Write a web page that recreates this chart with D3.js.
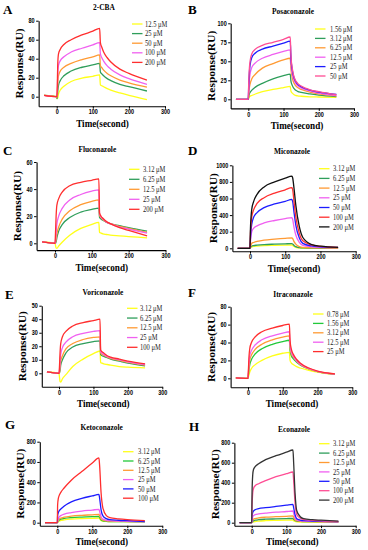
<!DOCTYPE html>
<html>
<head>
<meta charset="utf-8">
<script src="https://cdn.jsdelivr.net/npm/d3@7"></script>
<style>
  html, body { margin: 0; padding: 0; background: #fff; }
  svg { display: block; }
</style>
</head>
<body>
<div id="chart"></div>
<script>
// sample times (s) shared by every sensorgram
const times = [-35, 0, 1, 3, 5, 10, 20, 40, 70, 100, 119, 121, 125, 130, 140, 150, 175, 200, 250];
const timeTicks = [0, 100, 200, 300];

// A: 2-CBA
const cbaLabels = ['12.5 μM', '25 μM', '50 μM', '100 μM', '200 μM'];
const cbaTicks = [0, 20, 40, 60, 80];
const cbaValues = [
  [1.5, 0, -2, -1, 3, 7, 11, 16, 19.5, 21.5, 23, 12.5, 11.5, 10.5, 8.5, 7, 4, 1.5, -3],
  [1.5, 0, -2, 6, 12, 17, 22, 27, 31, 33.5, 35, 26, 24, 22, 19, 17, 13, 10.5, 6],
  [1.5, 0, -1, 14, 22, 27, 31, 35, 39, 42, 44, 33, 30.5, 28, 24.5, 22, 17.5, 14.5, 10],
  [1.5, 0, 0, 24, 33, 38, 42, 47, 51, 54.5, 57, 45, 41, 37.5, 32.5, 29, 23, 19, 13],
  [1.5, 0, 3, 35, 45, 50, 55, 60, 65, 69, 72, 57, 52, 47, 41, 36.5, 29, 24.5, 17.5],
];

// B: Posaconazole
const posaLabels = ['1.56 μM', '3.12 μM', '6.25 μM', '12.5 μM', '25 μM', '50 μM'];
const posaTicks = [0, 25, 50, 75, 100];
const posaValues = [
  [0, 0, 1, 3, 4, 5, 7, 10, 13, 15.5, 17, 11, 8, 6, 4.5, 4, 3.3, 3, 2.5],
  [0, 0, 3, 7, 9, 12, 16, 21, 27, 31, 33, 24, 18, 14, 10.5, 9, 7, 5.5, 3.5],
  [0, 0, 6, 15, 20, 27, 33, 41, 47, 52, 54, 40, 28, 21, 15.5, 13, 9.5, 7, 4.5],
  [0, 0, 10, 25, 33, 42, 48, 54, 59, 63, 65, 48, 33, 25, 18, 15, 11, 8, 5],
  [0, 0, 15, 35, 45, 55, 61, 66, 70, 74, 76.5, 55, 38, 28, 20, 16.5, 12, 9.5, 6.5],
  [0, 0, 18, 40, 50, 60, 66, 71, 75, 79, 82, 58, 40, 29, 21, 17.5, 12.5, 10, 6],
];

// C: Fluconazole
const flucoLabels = ['3.12 μM', '6.25 μM', '12.5 μM', '25 μM', '200 μM'];
const flucoTicks = [0, 20, 40, 60];
const flucoValues = [
  [1, 0, -1, -3.5, -3.7, -2, 1, 6, 11, 14, 15.5, 8, 7.5, 7, 6.5, 6, 5.5, 5, 4],
  [1, 0, 0, 1, 4, 9, 14, 19, 23, 25, 26, 19, 18, 17, 15.5, 14.5, 13, 11.5, 9],
  [1, 0, 0, 3, 7, 12, 18, 24, 28.5, 31, 32, 20.5, 19, 17.5, 15.5, 14.5, 12.5, 11, 8],
  [1, 0, 1, 8, 14, 20, 26, 32, 36, 38.5, 39.5, 21.5, 19.5, 18, 15.5, 14.5, 12, 10.5, 7.5],
  [1, 0, 5, 20, 28, 33, 38, 42.5, 45, 46.5, 47.5, 22.5, 20, 18.5, 16, 14.5, 11.5, 9.5, 5.5],
];

// D: Miconazole
const micoLabels = ['3.12 μM', '6.25 μM', '12.5 μM', '25 μM', '50 μM', '100 μM', '200 μM'];
const micoTicks = [0, 200, 400, 600, 800, 1000];
const micoValues = [
  [0, 0, 5, 12, 18, 22, 26, 32, 36, 39, 40, 35, 22, 12, 4, 3, 2, 1, 0],
  [0, 0, 8, 20, 28, 33, 38, 45, 50, 54, 56, 52, 35, 20, 8, 4, 2.5, 2, 1],
  [0, 0, 15, 40, 60, 70, 82, 98, 110, 120, 125, 118, 80, 50, 20, 10, 6, 5, 3],
  [0, 0, 60, 150, 200, 240, 270, 305, 335, 358, 370, 350, 250, 160, 70, 35, 18, 12, 8],
  [0, 0, 100, 220, 290, 370, 430, 490, 535, 565, 590, 565, 430, 280, 125, 60, 28, 18, 10],
  [0, 0, 150, 300, 380, 460, 540, 610, 665, 705, 730, 710, 560, 380, 180, 90, 40, 22, 12],
  [0, 0, 200, 380, 470, 560, 650, 740, 800, 845, 870, 850, 720, 520, 260, 130, 45, 25, 12],
];

// E: Voriconazole
const voriLabels = ['3.12 μM', '6.25 μM', '12.5 μM', '25 μM', '100 μM'];
const voriTicks = [0, 10, 20, 30, 40, 50];
const voriValues = [
  [1, 0, -2, -6, -6.5, -4, -1, 5, 10.5, 14.5, 16.5, 8, 7.5, 7, 6.5, 6, 5, 4.5, 4],
  [1, 0, 0, 2, 6, 10, 15, 19.5, 22, 23.5, 24, 14, 13, 12.5, 11.5, 10.5, 9, 7.5, 5.5],
  [1, 0, 0, 4, 9, 13, 18, 22, 25, 26.5, 27, 15, 14, 13.5, 12, 11, 9.5, 8, 6],
  [1, 0, 1, 8, 14, 19, 23, 27, 29.5, 31, 31.5, 16, 15, 14, 12.5, 11.5, 10, 8.5, 6.5],
  [1, 0, 3, 15, 22, 27, 31, 35, 37.5, 39, 40, 17, 16, 15, 13, 12, 10.5, 9, 7],
];

// F: Itraconazole
const itraLabels = ['0.78 μM', '1.56 μM', '3.12 μM', '12.5 μM', '25 μM'];
const itraTicks = [0, 20, 40, 60, 80];
const itraValues = [
  [0.5, 0, 1, 4, 7, 11, 15, 20, 25, 28, 29, 20, 17, 15.5, 13, 11.5, 9, 7, 4.3],
  [0.5, 0, 3, 10, 15, 21, 27, 33, 38, 41, 42.5, 31, 25, 22, 18, 15, 10.5, 7.5, 4.5],
  [0.5, 0, 4, 14, 20, 26, 32, 38, 43, 46, 47.5, 34, 27, 24, 19, 15.5, 10.5, 7.5, 4.6],
  [0.5, 0, 5, 18, 25, 31, 37, 43, 47.5, 50.5, 52, 37, 29, 25, 19.5, 16, 11, 7.7, 4.7],
  [0.5, 0, 8, 25, 33, 40, 46, 52, 56, 59, 60.5, 42, 32, 27, 21, 17, 11.5, 8, 5],
];

// G: Ketoconazole
const ketoLabels = ['3.12 μM', '6.25 μM', '12.5 μM', '25 μM', '50 μM', '100 μM'];
const ketoTicks = [0, 200, 400, 600, 800];
const ketoValues = [
  [0, 0, 4, 10, 15, 22, 28, 35, 40, 43, 45, 38, 22, 15, 12.5, 12, 11.5, 11, 12],
  [0, 0, 6, 18, 25, 35, 42, 50, 56, 60, 62, 50, 28, 18, 14, 12, 11, 10, 8],
  [0, 0, 8, 25, 35, 45, 55, 65, 73, 78, 82, 70, 40, 25, 18, 15, 13, 12, 10],
  [0, 0, 15, 40, 55, 70, 85, 100, 115, 125, 132, 110, 60, 35, 24, 20, 16, 14, 10],
  [0, 0, 70, 100, 115, 135, 165, 205, 240, 265, 280, 240, 130, 70, 40, 30, 24, 20, 12],
  [0, 0, 180, 240, 265, 300, 345, 420, 505, 590, 640, 560, 300, 150, 70, 50, 38, 30, 20],
];

// H: Econazole
const ecoLabels = ['3.12 μM', '6.25 μM', '12.5 μM', '25 μM', '50 μM', '100 μM', '200 μM'];
const ecoTicks = [0, 200, 400, 600, 800];
const ecoValues = [
  [0, 0, 2, 5, 8, 12, 16, 20, 23, 25, 27, 20, 12, 8, 6.5, 6, 5, 4, 3],
  [0, 0, 5, 12, 20, 25, 30, 35, 38, 41, 43, 35, 22, 16, 13, 12, 11, 10, 9],
  [0, 0, 10, 25, 35, 42, 48, 55, 60, 64, 67, 55, 30, 20, 15, 13, 11, 10, 8],
  [0, 0, 25, 60, 70, 80, 88, 95, 105, 112, 117, 95, 50, 28, 19, 16, 14, 12, 9],
  [0, 0, 60, 100, 115, 130, 140, 150, 163, 175, 183, 150, 80, 40, 26, 20, 17, 14, 10],
  [0, 0, 150, 300, 340, 370, 390, 420, 460, 490, 507, 420, 200, 80, 45, 30, 24, 18, 12],
  [0, 0, 300, 480, 530, 560, 590, 630, 670, 705, 727, 600, 300, 120, 60, 40, 30, 25, 15],
];

const YELLOW = '#ffff1a';
const GREEN = '#2f9e5b';
const LIME = '#22c93a';
const ORANGE = '#ff9a33';
const VIOLET = '#f060f0';
const RED = '#ff2e2e';
const BLUE = '#1c1cff';
const PINK = '#ff4d94';
const BLACK = '#111';

const SERIF = "'Liberation Serif', 'Times New Roman', serif";
const SANS = "'Liberation Sans', Arial, sans-serif";
const SQUEEZE = 0.87;

const panels = [
  { letter: 'A', title: '2-CBA', labels: cbaLabels, values: cbaValues, ticks: cbaTicks, yMin: -10,
    colors: [YELLOW, GREEN, ORANGE, VIOLET, RED],
    x0: 56.7, x300: 165, y0: 96.7, yTopPx: 20.7,
    letterAt: [3, 14], titleAt: [104, 9.5], legend: [132, 145, 24, 9.6], timeAt: [102.5, 127] },
  { letter: 'B', title: 'Posaconazole', labels: posaLabels, values: posaValues, ticks: posaTicks, yMin: -12,
    colors: [YELLOW, GREEN, ORANGE, VIOLET, BLUE, PINK],
    x0: 248.3, x300: 354, y0: 99.3, yTopPx: 23.3,
    letterAt: [188, 14], titleAt: [293, 13.5], legend: [315, 330, 29, 9.4], timeAt: [297, 128.5] },
  { letter: 'C', title: 'Fluconazole', labels: flucoLabels, values: flucoValues, ticks: flucoTicks, yMin: -5,
    colors: [YELLOW, GREEN, ORANGE, VIOLET, RED],
    x0: 55, x300: 165.5, y0: 243.3, yTopPx: 162,
    letterAt: [3, 155], titleAt: [97.3, 152], legend: [129, 143, 169.3, 10], timeAt: [101.7, 270.5] },
  { letter: 'D', title: 'Miconazole', labels: micoLabels, values: micoValues, ticks: micoTicks, yMin: -35,
    colors: [YELLOW, GREEN, ORANGE, VIOLET, BLUE, RED, BLACK],
    x0: 250, x300: 355.7, y0: 248.3, yTopPx: 165.3,
    letterAt: [188, 155], titleAt: [292, 153.7], legend: [319, 333, 168.7, 9.7], timeAt: [294, 271.5] },
  { letter: 'E', title: 'Voriconazole', labels: voriLabels, values: voriValues, ticks: voriTicks, yMin: -10,
    colors: [YELLOW, GREEN, ORANGE, VIOLET, RED],
    x0: 59, x300: 162.3, y0: 373.3, yTopPx: 305.7,
    letterAt: [5, 299], titleAt: [103, 295], legend: [127, 140, 308.3, 9.75], timeAt: [103.3, 406.5] },
  { letter: 'F', title: 'Itraconazole', labels: itraLabels, values: itraValues, ticks: itraTicks, yMin: -10,
    colors: [YELLOW, LIME, ORANGE, VIOLET, RED],
    x0: 248, x300: 352.3, y0: 378.3, yTopPx: 306.7,
    letterAt: [188, 297], titleAt: [293, 296.7], legend: [313, 327, 314, 9.4], timeAt: [292, 407] },
  { letter: 'G', title: 'Ketoconazole', labels: ketoLabels, values: ketoValues, ticks: ketoTicks, yMin: -30,
    colors: [YELLOW, LIME, ORANGE, VIOLET, BLUE, RED],
    x0: 57.3, x300: 162.3, y0: 522.7, yTopPx: 441.7,
    letterAt: [5, 429], titleAt: [101.7, 430.3], legend: [123, 138, 451.7, 9.3], timeAt: [101.7, 545] },
  { letter: 'H', title: 'Econazole', labels: ecoLabels, values: ecoValues, ticks: ecoTicks, yMin: -30,
    colors: [YELLOW, GREEN, ORANGE, VIOLET, BLUE, PINK, '#333'],
    x0: 251.7, x300: 355.7, y0: 522.7, yTopPx: 442.7,
    letterAt: [189, 431], titleAt: [294, 432], legend: [319, 333, 443.7, 9.4], timeAt: [292.3, 545] },
];

// narrow horizontal text the way the reference is squashed
function squeeze(sel, k = SQUEEZE) {
  sel.each(function () {
    const w = this.getComputedTextLength();
    d3.select(this)
      .attr('textLength', w * k)
      .attr('lengthAdjust', 'spacingAndGlyphs');
  });
}

const svg = d3.select('#chart')
  .append('svg')
  .attr('width', 368)
  .attr('height', 550);

svg.append('rect')
  .attr('width', 368)
  .attr('height', 550)
  .attr('fill', '#fff');

function drawPanel(p) {
  const g = svg.append('g');
  const yTop = p.ticks[p.ticks.length - 1];

  const x = d3.scaleLinear().domain([0, 300]).range([p.x0, p.x300]);
  const xLeft = x(-50);
  const xAxisScale = d3.scaleLinear().domain([-50, 300]).range([xLeft, p.x300]);

  const y = d3.scaleLinear().domain([0, yTop]).range([p.y0, p.yTopPx]);
  const yBottom = y(p.yMin);
  const yAxisScale = d3.scaleLinear().domain([p.yMin, yTop]).range([yBottom, p.yTopPx]);

  // axes
  const yAxis = g.append('g')
    .attr('transform', `translate(${xLeft},0)`)
    .call(d3.axisLeft(yAxisScale).tickValues(p.ticks).tickFormat(d3.format('d'))
      .tickSize(2.5).tickSizeOuter(0).tickPadding(1.5));
  const xAxis = g.append('g')
    .attr('transform', `translate(0,${yBottom})`)
    .call(d3.axisBottom(xAxisScale).tickValues(timeTicks).tickFormat(d3.format('d'))
      .tickSize(2.5).tickSizeOuter(0).tickPadding(1.2));

  [xAxis, yAxis].forEach(ax => {
    ax.select('.domain').attr('stroke', '#000').attr('stroke-width', 1.1);
    ax.selectAll('.tick line').attr('stroke', '#000').attr('stroke-width', 1);
    ax.selectAll('.tick text')
      .attr('font-family', SANS)
      .attr('font-weight', 'bold')
      .attr('font-size', 6.3)
      .attr('fill', '#000')
      .call(squeeze);
  });

  // sensorgrams
  const line = d3.line()
    .x((_, i) => x(times[i]))
    .y(v => y(v))
    .curve(d3.curveMonotoneX);

  p.values.forEach((vals, i) => {
    g.append('path')
      .datum(vals)
      .attr('fill', 'none')
      .attr('stroke', p.colors[i])
      .attr('stroke-width', 1.3)
      .attr('stroke-linejoin', 'round')
      .attr('d', line);
  });

  // legend
  const [lx, tx, ly, step] = p.legend;
  p.labels.forEach((label, i) => {
    const yy = ly + i * step;
    g.append('line')
      .attr('x1', lx)
      .attr('x2', lx + 10.5)
      .attr('y1', yy)
      .attr('y2', yy)
      .attr('stroke', p.colors[i])
      .attr('stroke-width', 1.3);
    g.append('text')
      .attr('x', tx)
      .attr('y', yy)
      .attr('dy', '0.35em')
      .attr('font-family', SERIF)
      .attr('font-size', 7.5)
      .attr('fill', '#222')
      .text(label)
      .call(squeeze);
  });

  // panel letter and title
  g.append('text')
    .attr('x', p.letterAt[0])
    .attr('y', p.letterAt[1])
    .attr('font-family', SERIF)
    .attr('font-weight', 'bold')
    .attr('font-size', 13)
    .text(p.letter);

  g.append('text')
    .attr('x', p.titleAt[0])
    .attr('y', p.titleAt[1])
    .attr('text-anchor', 'middle')
    .attr('font-family', SERIF)
    .attr('font-weight', 'bold')
    .attr('font-size', 8.5)
    .text(p.title)
    .call(squeeze);

  // axis titles
  g.append('text')
    .attr('transform', `translate(${xLeft - 19.5},${(p.yTopPx + yBottom) / 2}) scale(${SQUEEZE},1) rotate(-90)`)
    .attr('text-anchor', 'middle')
    .attr('dominant-baseline', 'central')
    .attr('font-family', SERIF)
    .attr('font-weight', 'bold')
    .attr('font-size', 11.5)
    .text('Response(RU)');

  g.append('text')
    .attr('x', p.timeAt[0])
    .attr('y', p.timeAt[1])
    .attr('text-anchor', 'middle')
    .attr('font-family', SERIF)
    .attr('font-weight', 'bold')
    .attr('font-size', 10.5)
    .text('Time(second)')
    .call(squeeze);
}

panels.forEach(drawPanel);
</script>
</body>
</html>
